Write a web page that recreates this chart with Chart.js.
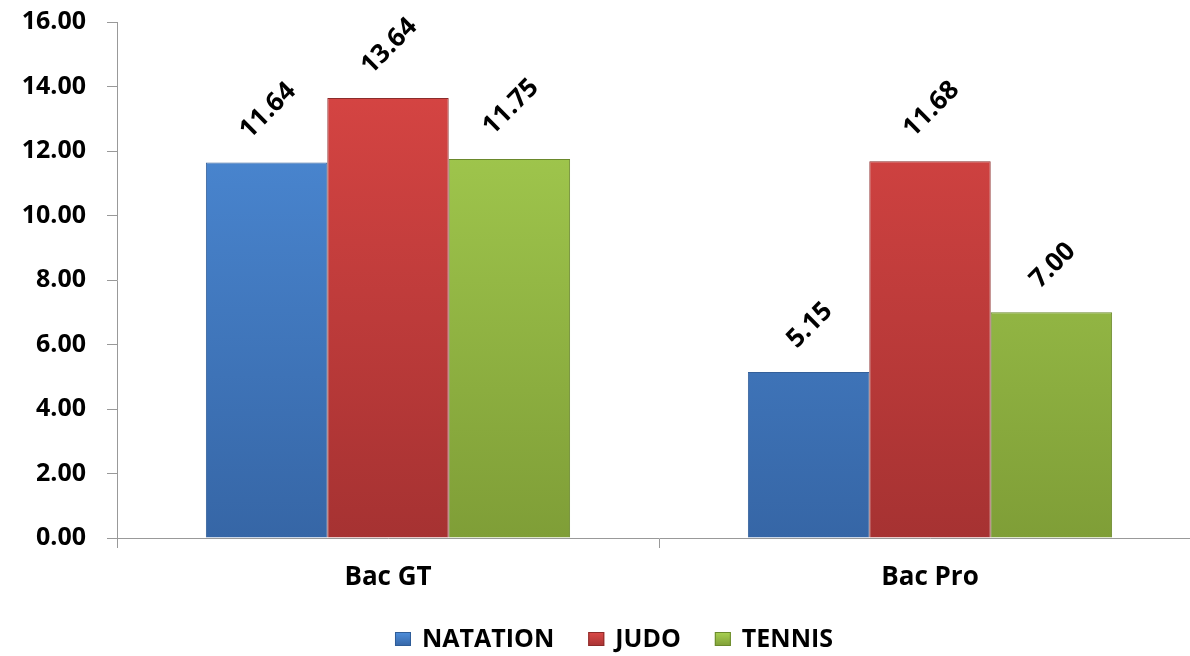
<!DOCTYPE html>
<html>
<head>
<meta charset="utf-8">
<script src="https://cdn.jsdelivr.net/npm/chart.js@4/dist/chart.umd.min.js"></script>
<style>
  html, body { margin: 0; padding: 0; background: #fff; overflow: hidden; }
  #wrap { width: 1202px; height: 656px; }
</style>
</head>
<body>
<div id="wrap"><canvas id="sportChart"></canvas></div>
<script>
// ===================== données =====================
var categories = ["Bac GT", "Bac Pro"];
var natation = [11.64, 5.15];
var judo = [13.64, 11.68];
var tennis = [11.75, 7.00];
var yTicks = [0, 2, 4, 6, 8, 10, 12, 14, 16];

var FONT = "'Open Sans', 'Liberation Sans', sans-serif";

// dégradé vertical pour chaque série
function grad(top, bottom) {
  return function (c) {
    var area = c.chart.chartArea;
    if (!area) return top;
    var g = c.chart.ctx.createLinearGradient(0, area.top, 0, area.bottom);
    g.addColorStop(0, top);
    g.addColorStop(1, bottom);
    return g;
  };
}

// étiquettes inclinées à 45° au-dessus des barres
var rotatedLabels = {
  id: "rotatedLabels",
  afterDatasetsDraw: function (chart) {
    var ctx = chart.ctx;
    var size = 26;
    ctx.save();
    ctx.font = "bold " + size + "px " + FONT;
    ctx.fillStyle = "#000";
    ctx.textAlign = "center";
    ctx.textBaseline = "middle";
    chart.data.datasets.forEach(function (ds, i) {
      chart.getDatasetMeta(i).data.forEach(function (bar, j) {
        var txt = ds.data[j].toFixed(2);
        var w = ctx.measureText(txt).width;
        var half = (w + size * 0.72) * 0.7071 / 2;
        ctx.save();
        ctx.translate(bar.x, bar.y - 23 - half);
        ctx.rotate(-Math.PI / 4);
        ctx.fillText(txt, 0, 2);
        ctx.restore();
      });
    });
    ctx.restore();
  }
};

// légende en bas (carrés + libellés)
var bottomLegend = {
  id: "bottomLegend",
  afterDraw: function (chart) {
    var ctx = chart.ctx;
    var fills = [["#4f8fdc", "#3666a6"], ["#dc4a48", "#a83333"], ["#a9d253", "#7f9e37"]];
    var lines = ["#2f5d98", "#8c2a29", "#6b8a2c"];
    var boxW = 16, boxH = 14, gapBox = 11, gapItem = 34;
    var cy = 639;
    ctx.save();
    ctx.font = "bold 25px " + FONT;
    var items = chart.data.datasets.map(function (ds) {
      return { text: ds.label, w: ctx.measureText(ds.label).width };
    });
    var total = 0;
    items.forEach(function (it, k) {
      total += boxW + gapBox + it.w + (k < items.length - 1 ? gapItem : 0);
    });
    var x = 614 - total / 2;
    ctx.textBaseline = "middle";
    ctx.textAlign = "left";
    items.forEach(function (it, k) {
      var g = ctx.createLinearGradient(0, cy - boxH / 2, 0, cy + boxH / 2);
      g.addColorStop(0, fills[k][0]);
      g.addColorStop(1, fills[k][1]);
      ctx.fillStyle = g;
      ctx.fillRect(x, cy - boxH / 2, boxW, boxH);
      ctx.strokeStyle = lines[k];
      ctx.lineWidth = 1;
      ctx.strokeRect(x + 0.5, cy - boxH / 2 + 0.5, boxW - 1, boxH - 1);
      x += boxW + gapBox;
      ctx.fillStyle = "#000";
      ctx.fillText(it.text, x, cy + 1);
      x += it.w + gapItem;
    });
    ctx.restore();
  }
};

var ctx = document.getElementById("sportChart").getContext("2d");
var sportChart = new Chart(ctx, {
  type: "bar",
  data: {
    labels: categories,
    datasets: [
      {
        label: "NATATION",
        data: natation,
        backgroundColor: grad("#4f8fdc", "#3666a6"),
        borderColor: "#34609a",
        borderWidth: 1
      },
      {
        label: "JUDO",
        data: judo,
        backgroundColor: grad("#dc4745", "#a63232"),
        borderColor: "#8c2b2a",
        borderWidth: 1
      },
      {
        label: "TENNIS",
        data: tennis,
        backgroundColor: grad("#a9d253", "#7f9e37"),
        borderColor: "#6a882c",
        borderWidth: 1
      }
    ]
  },
  options: {
    responsive: true,
    maintainAspectRatio: false,
    animation: false,
    layout: { padding: { left: 0, right: 1, top: 0, bottom: 46 } },
    datasets: {
      bar: { categoryPercentage: 0.672, barPercentage: 1 }
    },
    scales: {
      x: {
        grid: {
          offset: true,
          drawOnChartArea: false,
          tickLength: 10,
          color: "#999"
        },
        border: { color: "#999", width: 1 },
        ticks: {
          color: "#000",
          padding: 14,
          font: { family: FONT, size: 26, weight: "bold" }
        },
        afterFit: function (s) { s.height = 72; }
      },
      y: {
        min: 0,
        max: 16,
        afterBuildTicks: function (s) {
          s.ticks = yTicks.map(function (v) { return { value: v }; });
        },
        grid: {
          drawOnChartArea: false,
          tickLength: 10,
          color: "#999"
        },
        border: { color: "#999", width: 1 },
        ticks: {
          color: "#000",
          padding: 21,
          // petite hauteur de ligne : le haut de l'axe reste à ~22 px
          font: { family: FONT, size: 25, weight: "bold", lineHeight: 0.08 },
          callback: function (v) { return Number(v).toFixed(2); }
        },
        afterFit: function (s) { s.width = 117; }
      }
    },
    plugins: {
      legend: { display: false },
      tooltip: { enabled: false }
    }
  },
  plugins: [rotatedLabels, bottomLegend]
});
</script>
</body>
</html>
